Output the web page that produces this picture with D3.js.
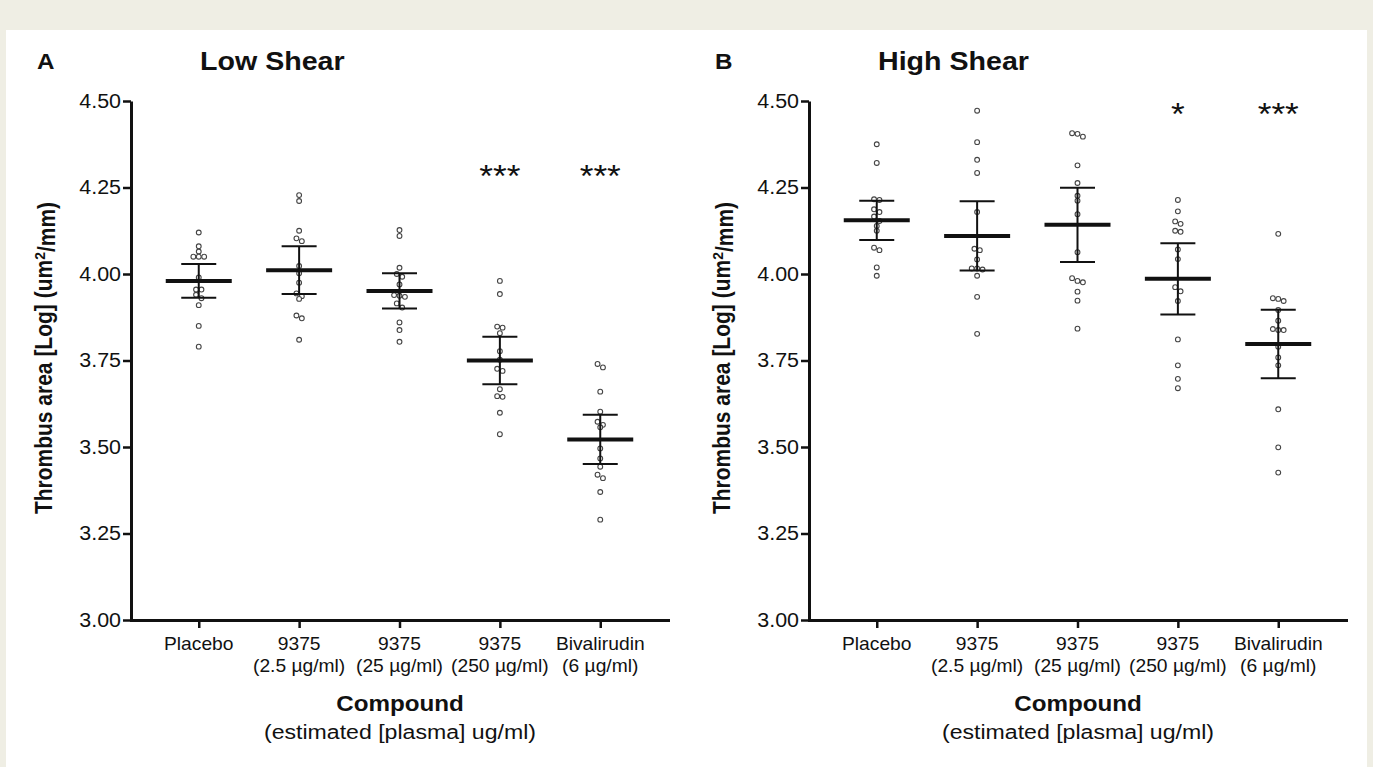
<!DOCTYPE html>
<html lang="en">
<head>
    <meta charset="utf-8">
    <script src="https://d3js.org/d3.v7.min.js"></script>
    <style type="text/css">
        body {
            margin: 0;
            overflow: hidden;
            background: #efeee4;
        }
        text {
            font-family: "Liberation Sans", Arial, sans-serif;
            fill: #111;
        }
    </style>
</head>
<body>
<svg id="chart"></svg>
<script type="text/javascript">
    var width = 1373;
    var height = 767;

    // categories (two lines per tick label)
    var catLine1 = ["Placebo", "9375", "9375", "9375", "Bivalirudin"];
    var catLine2 = ["", "(2.5 µg/ml)", "(25 µg/ml)", "(250 µg/ml)", "(6 µg/ml)"];
    var yTicks = [3.00, 3.25, 3.50, 3.75, 4.00, 4.25, 4.50];

    // Low shear: individual values per group
    var lowPlacebo = [4.12, 4.08, 4.065, 4.05, 4.05, 4.05, 3.99, 3.955, 3.955, 3.94, 3.93, 3.91, 3.85, 3.79];
    var low25 = [4.228, 4.211, 4.125, 4.103, 4.095, 4.023, 4.002, 3.975, 3.944, 3.936, 3.928, 3.880, 3.872, 3.810];
    var low250 = [4.127, 4.110, 4.018, 4.000, 3.992, 3.970, 3.939, 3.937, 3.934, 3.915, 3.903, 3.860, 3.838, 3.804];
    var low2500 = [3.980, 3.942, 3.848, 3.845, 3.829, 3.777, 3.752, 3.726, 3.720, 3.667, 3.647, 3.645, 3.599, 3.537];
    var lowBiva = [3.740, 3.730, 3.660, 3.602, 3.573, 3.564, 3.557, 3.496, 3.467, 3.443, 3.420, 3.410, 3.37, 3.29];
    var lowMean = [3.980, 4.011, 3.951, 3.750, 3.522];
    var lowSem = [0.049, 0.069, 0.051, 0.069, 0.071];
    var lowStars = ["", "", "", "***", "***"];

    // High shear: individual values per group
    var highPlacebo = [4.375, 4.321, 4.216, 4.214, 4.187, 4.179, 4.166, 4.153, 4.139, 4.125, 4.076, 4.069, 4.019, 3.995];
    var high25 = [4.472, 4.381, 4.330, 4.292, 4.179, 4.073, 4.069, 4.042, 4.016, 4.016, 4.013, 3.995, 3.934, 3.827];
    var high250 = [4.407, 4.405, 4.397, 4.314, 4.263, 4.226, 4.212, 4.173, 4.063, 3.988, 3.980, 3.976, 3.949, 3.923, 3.842];
    var high2500 = [4.214, 4.181, 4.152, 4.145, 4.125, 4.122, 4.071, 4.043, 3.962, 3.950, 3.922, 3.811, 3.736, 3.697, 3.670];
    var highBiva = [4.116, 3.930, 3.928, 3.922, 3.896, 3.865, 3.841, 3.838, 3.838, 3.790, 3.759, 3.736, 3.609, 3.499, 3.426];
    var highMean = [4.155, 4.110, 4.142, 3.986, 3.798];
    var highSem = [0.057, 0.100, 0.107, 0.103, 0.099];
    var highStars = ["", "", "", "*", "***"];

    var starLevel = [4.30, 4.48];

    var panels = [
        { letter: "A", title: "Low Shear", groups: [lowPlacebo, low25, low250, low2500, lowBiva],
          mean: lowMean, sem: lowSem, stars: lowStars, starY: starLevel[0], dx: 0 },
        { letter: "B", title: "High Shear", groups: [highPlacebo, high25, high250, high2500, highBiva],
          mean: highMean, sem: highSem, stars: highStars, starY: starLevel[1], dx: 678 }
    ];

    var stretch = 1.1;   // text in the figure is a bit wider than Arial

    var svg = d3.select("#chart")
        .attr("width", width)
        .attr("height", height);

    svg.append("rect")
        .attr("x", 6).attr("y", 30)
        .attr("width", 1361).attr("height", height - 30)
        .attr("fill", "#fff");

    var x = d3.scalePoint()
        .domain(d3.range(catLine1.length))
        .range([131, 668])
        .padding(0.675);

    var y = d3.scaleLinear()
        .domain([3, 4.5])
        .range([620, 101]);

    function addText(g, tx, ty, str, size, weight, anchor) {
        return g.append("text")
            .attr("transform", "translate(" + tx + "," + ty + ") scale(" + stretch + ",1)")
            .attr("text-anchor", anchor || "start")
            .style("font-size", size + "px")
            .style("font-weight", weight || "normal")
            .text(str);
    }

    // simple column scatter: points at nearly the same height share a row
    function swarm(values, step, thresh) {
        var pts = values.map(function(v) { return { v: v, y: y(v) }; })
            .sort(function(a, b) { return a.y - b.y; });
        var rows = [];
        pts.forEach(function(p) {
            var last = rows[rows.length - 1];
            if (last && p.y - last[0].y < thresh) last.push(p);
            else rows.push([p]);
        });
        rows.forEach(function(row) {
            var n = row.length;
            row.forEach(function(p, k) { p.off = (k - (n - 1) / 2) * step; });
        });
        return pts;
    }

    panels.forEach(function(panel) {
        var g = svg.append("g").attr("transform", "translate(" + panel.dx + ",0)");

        addText(g, 37, 69, panel.letter, 22, "bold");
        addText(g, 200, 70, panel.title, 26, "bold");

        // y axis
        var yAxis = g.append("g")
            .attr("transform", "translate(131,0)")
            .call(d3.axisLeft(y).tickValues(yTicks).tickFormat(d3.format(".2f"))
                .tickSize(8).tickSizeOuter(0));
        yAxis.select(".domain").attr("stroke", "#111").attr("stroke-width", 3);
        yAxis.selectAll(".tick line").attr("stroke", "#111").attr("stroke-width", 2.5);
        yAxis.selectAll(".tick text")
            .attr("x", -10 / stretch)
            .attr("transform", "scale(" + stretch + ",1)")
            .style("font-size", "19.5px")
            .attr("fill", "#111");

        // x axis
        var xAxis = g.append("g")
            .attr("transform", "translate(0,620)")
            .call(d3.axisBottom(x).tickSize(8).tickSizeOuter(0).tickFormat(""));
        xAxis.select(".domain").attr("stroke", "#111").attr("stroke-width", 3)
            .attr("stroke-linecap", "square");
        xAxis.selectAll(".tick line").attr("stroke", "#111").attr("stroke-width", 2.5);

        catLine1.forEach(function(c, i) {
            addText(g, x(i), 650, c, 17.5, "normal", "middle");
            addText(g, x(i), 672, catLine2[i], 17.5, "normal", "middle");
        });

        addText(g, 400, 711, "Compound", 22, "bold", "middle");
        addText(g, 400, 739, "(estimated [plasma] ug/ml)", 21, "normal", "middle");

        // y axis title
        var yt = g.append("text")
            .attr("transform", "translate(52,358) rotate(-90) scale(1," + stretch + ")")
            .attr("text-anchor", "middle")
            .style("font-size", "21px")
            .style("font-weight", "bold");
        yt.append("tspan").text("Thrombus area [Log] (um");
        yt.append("tspan").attr("dy", "-0.45em").style("font-size", "14px").text("2");
        yt.append("tspan").attr("dy", "0.45em").text("/mm)");

        // points
        panel.groups.forEach(function(vals, i) {
            var pts = swarm(vals, 5.4, 4.5);
            g.append("g").selectAll("circle")
                .data(pts)
                .join("circle")
                .attr("cx", function(d) { return x(i) + d.off; })
                .attr("cy", function(d) { return d.y; })
                .attr("r", 2.4)
                .attr("fill", "#fff")
                .attr("stroke", "#444")
                .attr("stroke-width", 1.1);
        });

        // mean and SEM
        var bars = g.append("g").attr("stroke", "#111");
        panel.mean.forEach(function(m, i) {
            var cx = x(i);
            var hi = y(m + panel.sem[i]);
            var lo = y(m - panel.sem[i]);
            bars.append("line").attr("x1", cx).attr("x2", cx).attr("y1", hi).attr("y2", lo)
                .attr("stroke-width", 2);
            bars.append("line").attr("x1", cx - 17.5).attr("x2", cx + 17.5).attr("y1", hi).attr("y2", hi)
                .attr("stroke-width", 2);
            bars.append("line").attr("x1", cx - 17.5).attr("x2", cx + 17.5).attr("y1", lo).attr("y2", lo)
                .attr("stroke-width", 2);
            bars.append("line").attr("x1", cx - 33).attr("x2", cx + 33).attr("y1", y(m)).attr("y2", y(m))
                .attr("stroke-width", 4);
        });

        // significance stars
        panel.stars.forEach(function(s, i) {
            if (s) addText(g, x(i), y(panel.starY) + 17, s, 32, "normal", "middle");
        });
    });
</script>
</body>
</html>
